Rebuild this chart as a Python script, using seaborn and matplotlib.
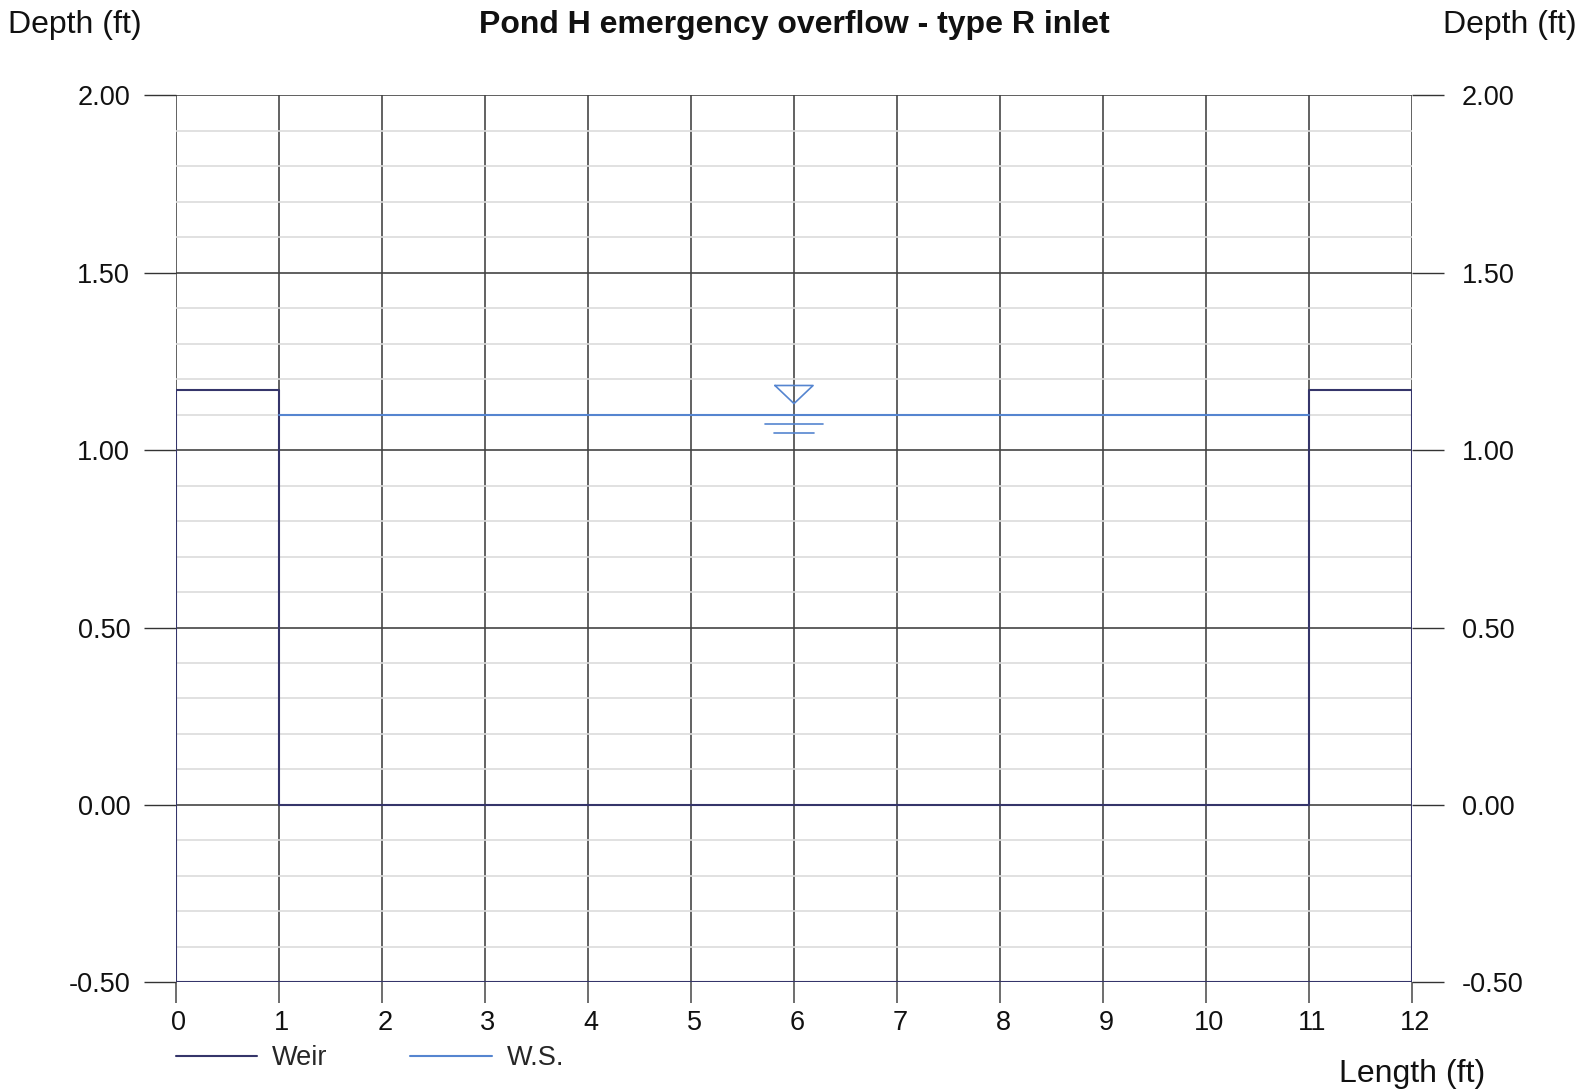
import matplotlib
matplotlib.use("Agg")
import matplotlib.pyplot as plt
import matplotlib.transforms as mtrans
import seaborn as sns
import numpy as np
import pandas as pd

# Data
weir_x = [0, 0, 1, 1, 11, 11, 12, 12, 0]
weir_y = [-0.5, 1.17, 1.17, 0.0, 0.0, 1.17, 1.17, -0.5, -0.5]
ws_x = [1, 11]
ws_y = [1.10, 1.10]
x_ticks = list(range(0, 13))
y_ticks = [-0.50, 0.00, 0.50, 1.00, 1.50, 2.00]
y_tick_labels = ["-0.50", "0.00", "0.50", "1.00", "1.50", "2.00"]

sns.set_theme(style="white")
plt.rcParams['font.family'] = ['Liberation Sans', 'DejaVu Sans']

W, H = 1588, 1090
fig = plt.figure(figsize=(W / 100, H / 100), dpi=100)
ax = fig.add_axes([176 / W, 1 - 982.4 / H, (1412 - 176) / W, (982.4 - 95.2) / H])

weir_col = "#35356a"
ws_col = "#5585d0"

df_w = pd.DataFrame({"x": weir_x, "y": weir_y, "s": "Weir"})
df_s = pd.DataFrame({"x": ws_x, "y": ws_y, "s": "W.S."})
sns.lineplot(data=df_w, x="x", y="y", sort=False, estimator=None, color=weir_col,
             lw=1.5, ax=ax, label="Weir", zorder=5)
sns.lineplot(data=df_s, x="x", y="y", sort=False, estimator=None, color=ws_col,
             lw=1.5, ax=ax, label="W.S.", zorder=5)

# water surface symbol
xm = (ws_x[0] + ws_x[-1]) / 2
wsv = ws_y[0]
ax.plot([xm - 0.185, xm + 0.185, xm, xm - 0.185],
        [wsv + 0.082, wsv + 0.082, wsv + 0.031, wsv + 0.082], color=ws_col, lw=1.2, zorder=6)
ax.plot([xm - 0.28, xm + 0.28], [wsv - 0.026, wsv - 0.026], color=ws_col, lw=1.2, zorder=6)
ax.plot([xm - 0.19, xm + 0.19], [wsv - 0.053, wsv - 0.053], color=ws_col, lw=1.2, zorder=6)

ax.set_xlim(0, 12)
ax.set_ylim(-0.5, 2.0)
ax.set_xticks(x_ticks)
ax.set_yticks(y_ticks)
ax.set_yticklabels(y_tick_labels)
ax.set_yticks(np.arange(-0.5, 2.001, 0.1), minor=True)

ax.grid(which="major", axis="x", color="#555555", lw=1.3, zorder=1)
ax.grid(which="major", axis="y", color="#444444", lw=1.2, zorder=2)
ax.grid(which="minor", axis="y", color="#dcdcdc", lw=1.2, zorder=0)
ax.set_axisbelow(True)
for s in ax.spines.values():
    s.set_visible(False)

ax.tick_params(axis="y", which="major", left=True, right=True, labelleft=True, labelright=True,
               length=23, width=1.0, color="#333333", pad=10, labelsize=19.5, labelcolor="#111111")
ax.tick_params(axis="y", which="minor", left=False, right=False)
ax.tick_params(axis="x", which="major", bottom=True, length=15, width=1.2, color="#555555",
               pad=5, labelsize=19.5, labelcolor="#111111")

ax.set_xlabel("")
ax.set_ylabel("")

ax.legend(loc="upper left", bbox_to_anchor=(-0.0002, -0.071), ncol=2, frameon=False,
          handlelength=3.0, handletextpad=0.56, columnspacing=3.05, fontsize=19.5,
          borderaxespad=0, borderpad=0)

fig.text(8 / W, 1 - 24.5 / H, "Depth (ft)", ha="left", va="center", fontsize=23, color="#111111")
fig.text(1577 / W, 1 - 24.5 / H, "Depth (ft)", ha="right", va="center", fontsize=23, color="#111111")
fig.text(0.5, 1 - 24.5 / H, "Pond H emergency overflow - type R inlet", ha="center", va="center",
         fontsize=23, fontweight="bold", color="#111111")
fig.text(1412 / W, 1 - 1074 / H, "Length (ft)", ha="center", va="center", fontsize=23, color="#111111")

# shift right tick labels slightly further right, x labels slightly right
off_r = mtrans.ScaledTranslation(4 / 100, 0, fig.dpi_scale_trans)
for t in ax.yaxis.get_major_ticks():
    t.label2.set_transform(t.label2.get_transform() + off_r)
off_x = mtrans.ScaledTranslation(3 / 100, 0, fig.dpi_scale_trans)
for t in ax.xaxis.get_major_ticks():
    t.label1.set_transform(t.label1.get_transform() + off_x)

fig.savefig("out.png", dpi=100)
